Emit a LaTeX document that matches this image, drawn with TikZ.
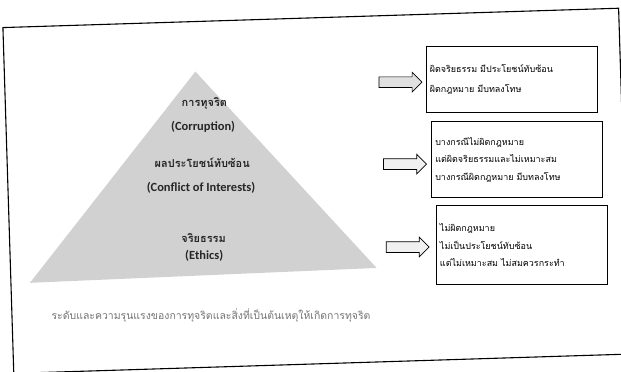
\documentclass[tikz,border=0pt]{standalone}
\usepackage{fontspec}
\setmainfont{Carlito}
\newfontfamily\thaifont[Script=Thai]{Loma}
\usetikzlibrary{positioning,shapes.arrows}

\begin{document}
\begin{tikzpicture}[x=1bp,y=-1bp,
    infobox/.style={draw,line width=0.8pt,minimum width=171bp,text width=164bp,align=left,inner xsep=3bp,font=\thaifont\fontsize{9}{17.5}\selectfont},
    blockarrow/.style={single arrow,draw,line width=0.7pt,fill=black!12,minimum height=43bp,inner xsep=0pt,inner ysep=5bp,single arrow head extend=4.5bp},
    levelthai/.style={font=\thaifont\bfseries\fontsize{11}{13}\selectfont,text=black!85},
    levelname/.style={font=\bfseries\fontsize{12.5}{14}\selectfont,text=black!85}]
  \useasboundingbox (0,0) rectangle (621,371);
  \begin{scope}[rotate around={1.8:(310,185)}]
    % frame of the scanned page
    \draw[line width=1.1pt] (8,18) rectangle (624,364);
    % pyramid
    \coordinate (apex) at (199,68);
    \coordinate (baseL) at (27,274);
    \coordinate (baseR) at (374,270);
    \fill[black!18] (apex) -- (baseR) -- (baseL) -- cycle;
    \node[levelthai] (corrTh) at (207,100) {การทุจริต};
    \node[levelname] (corrEn) at (205,124) {(Corruption)};
    \node[levelthai] (coiTh) at (203,159) {ผลประโยชน์ทับซ้อน};
    \node[levelname] (coiEn) at (201,184) {(Conflict of Interests)};
    \node[levelthai] (ethTh) at (202,235) {จริยธรรม};
    \node[levelname] (ethEn) at (202,252) {(Ethics)};
    % arrows
    \node[blockarrow] (arrTop) at (401,85) {};
    \node[blockarrow,fill=black!6] (arrMid) at (403,167) {};
    \node[blockarrow,fill=black!6] (arrBot) at (403,250) {};
    % boxes
    \node[infobox,minimum height=66bp,font=\thaifont\fontsize{9}{20}\selectfont] (boxTop) at (515,86)
      {ผิดจริยธรรม มีประโยชน์ทับซ้อน\\ผิดกฎหมาย มีบทลงโทษ};
    \node[infobox,minimum height=76bp] (boxMid) at (518,166)
      {บางกรณีไม่ผิดกฎหมาย\\แต่ผิดจริยธรรมและไม่เหมาะสม\\บางกรณีผิดกฎหมาย มีบทลงโทษ};
    \node[infobox,minimum height=79bp] (boxBot) at (520,252)
      {ไม่ผิดกฎหมาย\\ไม่เป็นประโยชน์ทับซ้อน\\แต่ไม่เหมาะสม ไม่สมควรกระทำ};
    % caption
    \node[font=\thaifont\fontsize{10.5}{12}\selectfont,text=black!55] (note) at (207,312)
      {ระดับและความรุนแรงของการทุจริตและสิ่งที่เป็นต้นเหตุให้เกิดการทุจริต};
  \end{scope}
\end{tikzpicture}
\end{document}
